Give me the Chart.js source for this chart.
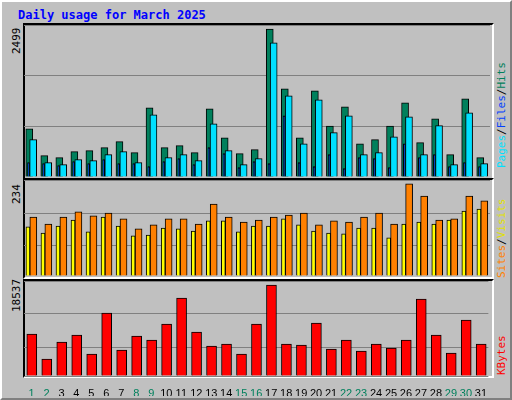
<!DOCTYPE html>
<html>
<head>
<meta charset="utf-8">
<script src="https://cdn.jsdelivr.net/npm/chart.js@4"></script>
<style>
  body { margin: 0; background: #fff; }
  #frame { position: absolute; left: 0; top: 0; width: 508px; height: 396px; background: #c0c0c0;
           border-top: 2px solid #fff; border-left: 2px solid #fff; border-right: 2px solid #808080; border-bottom: 2px solid #808080; }
  .panel { position: absolute; left: 23px; width: 467px; border-top: 2px solid #000; border-left: 2px solid #000;
           border-right: 2px solid #fff; border-bottom: 2px solid #fff; box-sizing: content-box; }
  canvas { position: absolute; }
  .txt { position: absolute; font-family: "DejaVu Sans Mono", monospace; white-space: nowrap; }
  .rot { transform: rotate(-90deg); transform-origin: left top; }
</style>
</head>
<body>
<div id="frame"></div>
<div class="panel" style="top:23px;height:153px"></div>
<div class="panel" style="top:178px;height:97px"></div>
<div class="panel" style="top:279px;height:95px"></div>
<div class="txt" style="left:18px;top:8px;font-size:12px;font-weight:bold;color:#0000ff">Daily usage for March 2025</div>
<div class="txt rot" style="left:10px;top:54px;font-size:11px">2499</div>
<div class="txt rot" style="left:10px;top:204px;font-size:11px">234</div>
<div class="txt rot" style="left:10px;top:312px;font-size:11px">18537</div>
<div class="txt rot" style="left:495px;top:168px;font-size:11px"><span style="color:#00e0ff">Pages</span>/<span style="color:#0040ff">Files</span>/<span style="color:#00805c">Hits</span></div>
<div class="txt rot" style="left:495px;top:278px;font-size:11px"><span style="color:#ff8000">Sites</span>/<span style="color:#e0e000">Visits</span></div>
<div class="txt rot" style="left:495px;top:375px;font-size:11px;color:#ff0000">KBytes</div>
<canvas id="c1" style="left:24px;top:25px"></canvas>
<canvas id="c2" style="left:24px;top:180px"></canvas>
<canvas id="c3" style="left:24px;top:281px"></canvas>
<script>
const days = Array.from({ length: 31 }, (_, i) => i + 1);
const weekendDays = [1, 2, 8, 9, 15, 16, 22, 23, 29, 30];
const hits = [815, 360, 327, 428, 445, 495, 596, 411, 1169, 495, 529, 411, 1152, 663, 394, 461,
  2499, 1489, 663, 1455, 859, 1186, 562, 630, 859, 1253, 579, 983, 377, 1320, 327];
const files = [630, 243, 209, 293, 276, 377, 428, 243, 1051, 327, 377, 276, 899, 445, 209, 310,
  2263, 1371, 562, 1303, 748, 1034, 377, 411, 680, 1017, 377, 866, 209, 1085, 226];
const pages = [243, 226, 192, 260, 226, 293, 226, 226, 175, 260, 310, 209, 495, 394, 158, 260,
  226, 1034, 243, 175, 377, 141, 327, 310, 158, 562, 327, 377, 175, 243, 175];
const visits = [125, 109, 127, 142, 112, 150, 127, 102, 104, 122, 120, 114, 140, 140, 112, 127,
  127, 145, 130, 114, 109, 107, 122, 122, 97, 132, 137, 132, 142, 165, 170];
const sites = [150, 132, 150, 163, 153, 160, 145, 120, 130, 145, 145, 132, 183, 150, 137, 142,
  150, 155, 160, 130, 140, 137, 150, 160, 132, 234, 203, 142, 145, 203, 191];
const kbytes = [8556, 3463, 6926, 8352, 4482, 12833, 5296, 8148, 7333, 10592, 15889, 8963, 6111, 6518, 4482, 10592,
  18537, 6518, 6315, 10796, 5500, 7333, 5093, 6518, 5704, 7333, 15685, 8352, 4685, 11407, 6518];

const W = 466;

// Chart.js paints dataset 0 last, so the front-most series comes first
function ds(values, off, color, thick) {
  return {
    data: values.map((v, i) => ({ x: days[i] + off, y: v })),
    backgroundColor: color, borderColor: '#000', borderWidth: 1,
    barThickness: thick, borderSkipped: 'bottom', grouped: false
  };
}

function makeChart(id, h, datasets, yTicks, showDays) {
  const cv = document.getElementById(id);
  cv.width = W; cv.height = h;
  cv.style.width = W + 'px'; cv.style.height = h + 'px';
  return new Chart(cv.getContext('2d'), {
    type: 'bar',
    data: { datasets },
    options: {
      responsive: false, animation: false, devicePixelRatio: 1,
      layout: { padding: 0 },
      plugins: { legend: { display: false }, tooltip: { enabled: false } },
      scales: {
        x: {
          type: 'linear', min: 0.5, max: 31.5, offset: false,
          grid: { display: false }, border: { display: false },
          afterBuildTicks: s => { s.ticks = days.map(d => ({ value: d })); },
          afterFit: s => { s.height = showDays ? 20 : 0; },
          ticks: {
            display: showDays, autoSkip: false, maxRotation: 0, padding: 3,
            font: { family: 'Liberation Sans', size: 11 },
            color: c => weekendDays.includes(c.tick.value) ? '#00805c' : '#000'
          }
        },
        y: {
          min: 0, max: yTicks[yTicks.length - 1],
          afterBuildTicks: s => { s.ticks = yTicks.map(v => ({ value: v })); },
          afterFit: s => { s.width = 0; },
          ticks: { display: false },
          grid: { color: '#808080', lineWidth: 1, drawTicks: false },
          border: { display: false }
        }
      }
    }
  });
}

makeChart('c1', 152, [
  ds(pages, -0.2, '#0040ff', 2),
  ds(files, 0.11, '#00e0ff', 7),
  ds(hits, -0.15, '#00805c', 7)
], [0, 855, 1711, 2566], false);

makeChart('c2', 96, [
  ds(visits, -0.24, '#ffff00', 4),
  ds(sites, 0.12, '#ff8000', 7)
], [0, 77, 160, 244], false);

makeChart('c3', 115, [
  ds(kbytes, 0.02, '#ff0000', 10)
], [0, 5907, 12630, 19352], true);
</script>
</body>
</html>
